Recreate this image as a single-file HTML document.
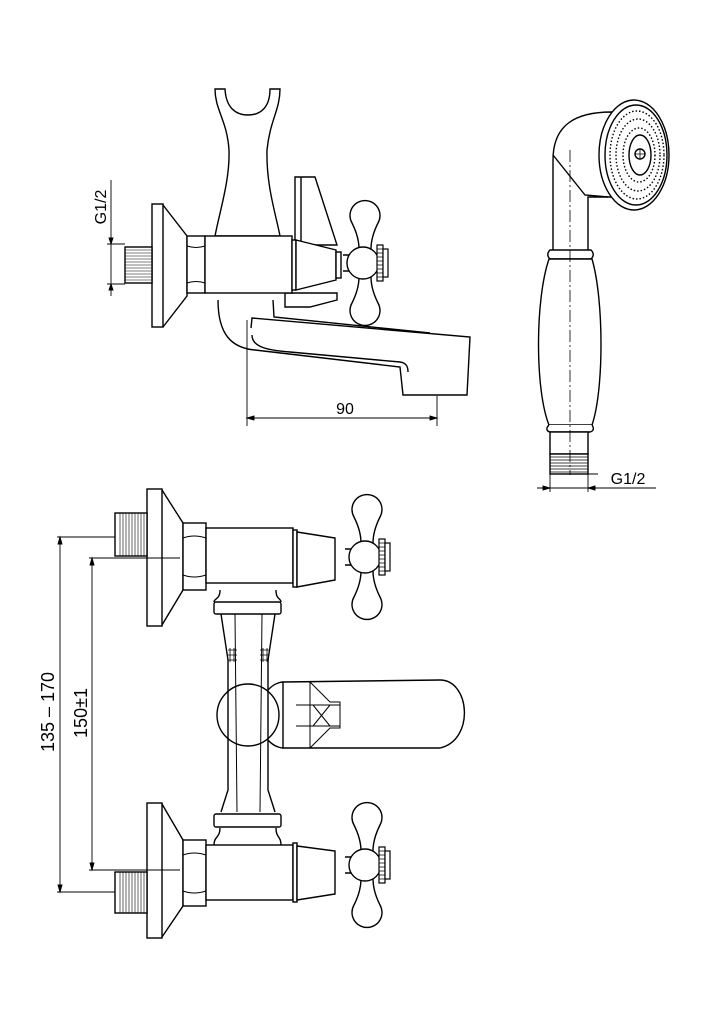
<!DOCTYPE html>
<html><head><meta charset="utf-8"><style>
html,body{margin:0;padding:0;background:#fff}
svg{display:block}
text{font-family:"Liberation Sans",sans-serif;fill:#000}
</style></head><body>
<svg width="723" height="1024" viewBox="0 0 723 1024" xmlns="http://www.w3.org/2000/svg">
<defs>
<g id="cross">
 <path d="M-6,-14 C-6,-24 -10,-34 -13,-40 A15,15 0 1 1 13,-40 C10,-34 6,-24 6,-14 Z" fill="#fff" stroke="#000" stroke-width="1.4"/>
 <path d="M-6,14 C-6,24 -10,34 -13,40 A15,15 0 1 0 13,40 C10,34 6,24 6,14 Z" fill="#fff" stroke="#000" stroke-width="1.4"/>
 <path d="M-22,-8 L-14,-8 M-22,8 L-14,8" stroke="#000" stroke-width="1.4"/>
 <circle cx="-2" cy="0" r="16" fill="#fff" stroke="#000" stroke-width="1.4"/>
 <rect x="12" y="-18" width="6" height="36" fill="#fff" stroke="#000" stroke-width="1.2"/>
 <rect x="18" y="-14" width="5" height="28" fill="#fff" stroke="#000" stroke-width="1.2"/>
 <path d="M12,-14h6M12,-10h6M12,-6h6M12,-2h6M12,2h6M12,6h6M12,10h6M12,14h6" stroke="#000" stroke-width="0.8"/>
</g>
</defs>
<g fill="none" stroke="#000" stroke-width="1.4">
<!-- ===== TOP SIDE VIEW ===== -->
<path d="M215,89 L225,89 C226,108 236,115 248,115 C260,115 270,108 270,89 L280,89 C280,110 270,120 267,150 C266,185 276,215 280,236 L215,236 C220,210 230,180 229,150 C227,120 215,110 215,89 Z" fill="#fff"/>
<path d="M295,177 L315,177 L337,245 L295,245 Z" fill="#fff"/>
<path d="M301,177 L301,245"/>
<path d="M285,293 L337,293 L337,300 L310,307 L285,307 Z" fill="#fff"/>
<path d="M218,300 C218,335 232,348 255,350 L400,367 L403,395 L467,395 L470,337 L252,318 L251,328" fill="#fff"/>
<path d="M252,335 C252,345 262,350 290,352 L400,362 C406,363 408,366 408,372"/>
<path d="M273,300 L274,317 L430,333"/>
<rect x="152" y="204" width="11" height="123" fill="#fff"/>
<path d="M163,205 L187,236 L187,296 L163,327"/>
<rect x="125" y="247" width="27" height="36" fill="#fff"/>
<path d="M125,250h27M125,253h27M125,256h27M125,259h27M125,262h27M125,265h27M125,268h27M125,271h27M125,274h27M125,277h27M125,280h27" stroke-width="0.6"/>
<rect x="187" y="236" width="18" height="57" fill="#fff"/>
<path d="M187,246 Q196,249 205,246 M187,283 Q196,280 205,283" stroke-width="1"/>
<rect x="205" y="236" width="87" height="57" fill="#fff"/>
<rect x="292" y="240" width="4" height="50" fill="#fff"/>
<path d="M296,240 L336,250 L336,280 L296,290 Z" fill="#fff"/>
<rect x="336" y="252" width="5" height="26" fill="#fff"/>
<use href="#cross" x="365" y="263"/>
<g stroke-width="0.9">
<path d="M111,180 L111,296 M107,244 L125,244 M107,284 L125,284"/>
<path d="M247,320 L247,426 M437,396 L437,426 M247,418 L437,418"/>
<path d="M247,418 l7,-2 l0,4 Z M437,418 l-7,-2 l0,4 Z M111,244 l-2,-6 l4,0 Z M111,284 l-2,6 l4,0 Z" fill="#000"/>
</g>
<!-- ===== BOTTOM FRONT VIEW ===== -->
<path d="M283,682 L440,680 C470,680 475,740 440,748 L283,748 Z" fill="#fff"/>
<path d="M268,690 C275,682 283,682 283,682 M268,740 C275,748 283,748 283,748"/>
<path d="M283,682 L310,682 L310,748 M310,682 L330,702 L340,702 L340,728 L330,728 L310,748 M296,705 L340,705 M296,726 L340,726 M313,705 L330,726 M313,726 L330,705" stroke-width="1"/>
<circle cx="248" cy="715" r="31"/>
<path d="M221,614 L228,660 L228,790 L221,812 M275,614 L268,660 L268,790 L275,812"/>
<path d="M235,614 L237,812 M262,614 L260,812" stroke-width="1"/>
<path d="M228,650h9M228,655h9M228,660h9M260,650h9M260,655h9M260,660h9M230,648v14M234,648v14M263,648v14M267,648v14" stroke-width="0.8"/>
<path d="M220,590 C220,600 214,598 214,602 M276,590 C276,600 281,598 281,602 M220,828 C220,838 214,836 214,845 M276,828 C276,838 281,836 281,845"/>
<rect x="214" y="602" width="67" height="12" rx="2" fill="#fff"/>
<rect x="214" y="814" width="67" height="13" rx="2" fill="#fff"/>
<rect x="147" y="489" width="15" height="137" fill="#fff"/>
<path d="M162,490 L183,523 L183,590 L162,625"/>
<rect x="115" y="513" width="32" height="43" fill="#fff"/>
<path d="M120,513v43M123,513v43M126,513v43M129,513v43M132,513v43M135,513v43M138,513v43M141,513v43M144,513v43" stroke-width="0.6"/>
<rect x="183" y="523" width="23" height="67" fill="#fff"/>
<path d="M183,538 Q194,534 206,538 M183,575 Q194,579 206,575" stroke-width="1"/>
<rect x="206" y="528" width="87" height="55" fill="#fff"/>
<rect x="293" y="530" width="4" height="57" fill="#fff"/>
<path d="M297,532 L335,538 L335,580 L297,587 Z" fill="#fff"/>
<use href="#cross" x="367" y="557"/>
<rect x="147" y="803" width="15" height="135" fill="#fff"/>
<path d="M162,804 L183,840 L183,906 L162,937"/>
<rect x="115" y="872" width="32" height="41" fill="#fff"/>
<path d="M120,872v41M123,872v41M126,872v41M129,872v41M132,872v41M135,872v41M138,872v41M141,872v41M144,872v41" stroke-width="0.6"/>
<rect x="183" y="840" width="23" height="66" fill="#fff"/>
<path d="M183,855 Q194,851 206,855 M183,891 Q194,895 206,891" stroke-width="1"/>
<rect x="206" y="845" width="87" height="55" fill="#fff"/>
<rect x="293" y="843" width="4" height="59" fill="#fff"/>
<path d="M297,846 L335,851 L335,894 L297,900 Z" fill="#fff"/>
<use href="#cross" x="367" y="865"/>
<g stroke-width="0.9">
<path d="M57,537 L115,537 M57,892 L115,892 M60,537 L60,892 M89,558 L180,558 M89,870 L180,870 M92,558 L92,870"/>
<path d="M60,537 l-2,7 l4,0 Z M60,892 l-2,-7 l4,0 Z M92,558 l-2,7 l4,0 Z M92,870 l-2,-7 l4,0 Z" fill="#000"/>
</g>
<!-- ===== HAND SHOWER ===== -->
<path d="M553,255 L553,160 C553,125 575,112 612,112 L612,197 L588,197 L588,255" fill="#fff"/>
<path d="M553,155 L585,195 L608,197"/>
<path d="M550,250 L591,250 C594,253 594,256 591,259 L550,259 C547,256 547,253 550,250 Z" fill="#fff"/>
<path d="M549,259 C535,300 535,390 549,425 L592,425 C604,390 604,300 592,259 Z" fill="#fff"/>
<path d="M549,425 C546,428 546,431 550,432 L590,432 C594,431 594,428 592,425" fill="#fff"/>
<rect x="550" y="432" width="38" height="22" fill="#fff"/>
<rect x="550" y="454" width="38" height="20" fill="#fff"/>
<path d="M550,457h38M550,460h38M550,463h38M550,466h38M550,469h38M550,472h38" stroke-width="0.7"/>
<ellipse cx="634" cy="155" rx="35" ry="55" fill="#fff"/>
<ellipse cx="636" cy="155" rx="31" ry="50"/>
<ellipse cx="637" cy="155" rx="27" ry="44" stroke-dasharray="1.5,2"/>
<ellipse cx="638" cy="155" rx="22" ry="36" stroke-dasharray="1.5,2"/>
<ellipse cx="639" cy="155" rx="16" ry="27" stroke-dasharray="1.5,2"/>
<ellipse cx="640" cy="155" rx="11" ry="20"/>
<circle cx="640" cy="154" r="5"/>
<path d="M635,154h10M640,149v10" stroke-width="0.8"/>
<path d="M570,150 L570,475" stroke-width="0.8" stroke-dasharray="12,3,2,3"/>
<g stroke-width="0.9">
<path d="M537,488 L656,488 M550,474 L550,492 M588,474 L588,492 M588,474 L598,474"/>
<path d="M550,488 l-7,-2 l0,4 Z M588,488 l7,-2 l0,4 Z" fill="#000"/>
</g>
</g>
<text x="345" y="414" font-size="16" text-anchor="middle">90</text>
<text x="628" y="484" font-size="16" text-anchor="middle">G1/2</text>
<text transform="translate(106,207) rotate(-90)" font-size="16" text-anchor="middle">G1/2</text>
<text transform="translate(54,712) rotate(-90)" font-size="18" text-anchor="middle">135 – 170</text>
<text transform="translate(87,713) rotate(-90)" font-size="18" text-anchor="middle">150±1</text>
</svg>
</body></html>
